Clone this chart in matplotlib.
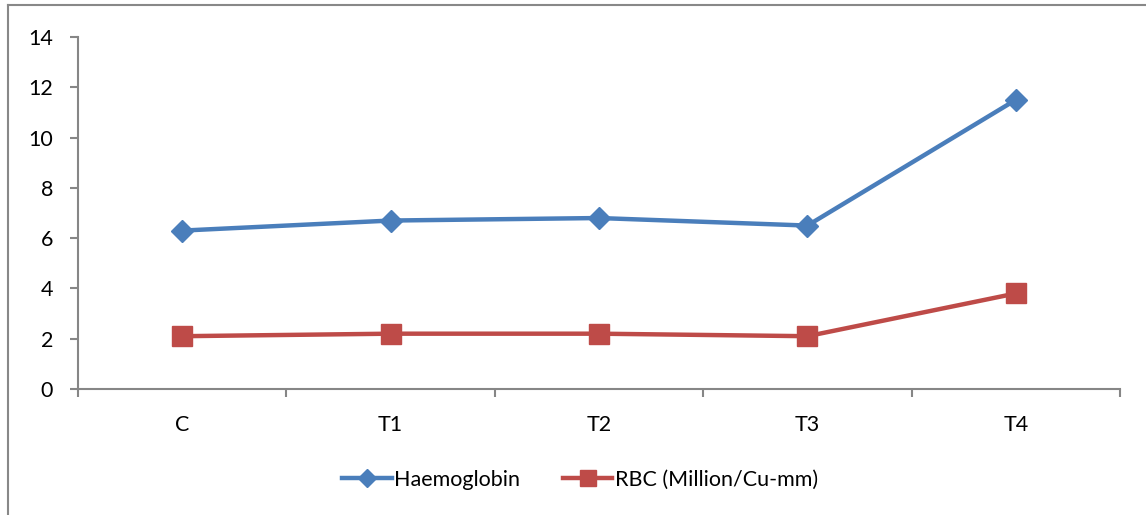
import matplotlib.pyplot as plt
from matplotlib.lines import Line2D

# data
categories = ["C", "T1", "T2", "T3", "T4"]
haemoglobin = [6.3, 6.7, 6.8, 6.5, 11.5]
rbc = [2.1, 2.2, 2.2, 2.1, 3.8]
y_ticks = [0, 2, 4, 6, 8, 10, 12, 14]

plt.rcParams['font.family'] = ['Lato', 'DejaVu Sans']

fig = plt.figure(figsize=(11.46, 5.15), dpi=100)
ax = fig.add_axes([78 / 1146, 1 - 389 / 515, (1120 - 78) / 1146, (389 - 37) / 515])

x = list(range(len(categories)))
ax.plot(x, haemoglobin, color='#4A7EBB', lw=3.2, marker='D', markersize=11,
        label='Haemoglobin')
ax.plot(x, rbc, color='#BE4B48', lw=3.2, marker='s', markersize=14,
        label='RBC (Million/Cu-mm)')

ax.set_xlim(-0.5, len(categories) - 0.5)
ax.set_ylim(0, 14)
ax.set_yticks(y_ticks)
ax.set_xticks(x)
ax.set_xticklabels(categories)
ax.set_xticks([i - 0.5 for i in range(len(categories) + 1)], minor=True)

grey = '#868686'
for s in ['top', 'right']:
    ax.spines[s].set_visible(False)
for s in ['left', 'bottom']:
    ax.spines[s].set_color(grey)
    ax.spines[s].set_linewidth(1.5)

ax.tick_params(axis='y', length=6, width=1.5, color=grey, pad=12, labelsize=15.5)
ax.tick_params(axis='x', which='major', length=0, pad=19, labelsize=15.5)
ax.tick_params(axis='x', which='minor', length=6, width=1.5, color=grey)

ax.legend(loc='center', bbox_to_anchor=(580 / 1146, 1 - 480 / 515),
          bbox_transform=fig.transFigure, ncol=2, frameon=False, fontsize=15.5,
          handlelength=2.3, columnspacing=2.0, handletextpad=0.1, markerscale=0.85)

# chart border (left and top edges visible)
fig.add_artist(Line2D([8 / 1146, 8 / 1146], [0, 1 - 5 / 515], transform=fig.transFigure,
                      color='#888888', lw=1.5))
fig.add_artist(Line2D([8 / 1146, 1], [1 - 5 / 515, 1 - 5 / 515], transform=fig.transFigure,
                      color='#888888', lw=1.5))

fig.savefig('out.png', dpi=100)
